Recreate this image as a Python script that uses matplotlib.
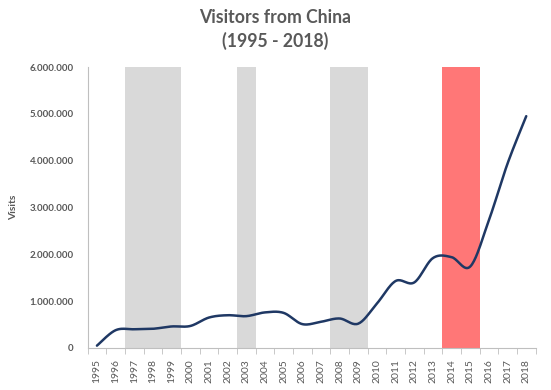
import matplotlib
matplotlib.use("Agg")
import matplotlib.pyplot as plt
import numpy as np
from matplotlib.ticker import FuncFormatter, FixedLocator

years = list(range(1995, 2019))
visitors = [50000, 380000, 400000, 410000, 460000, 470000, 650000, 700000, 680000,
            760000, 750000, 510000, 560000, 630000, 520000, 950000, 1430000, 1400000,
            1920000, 1940000, 1740000, 2730000, 3940000, 4950000]
grey_years = [1997, 1998, 1999, 2003, 2008, 2009]
red_years = [2014, 2015]
band_top = 6000000

TXT = "#595959"
plt.rcParams['font.family'] = ['Lato', 'DejaVu Sans']

fig = plt.figure(figsize=(5.51, 3.90), dpi=100)
ax = fig.add_axes([0.159, 0.1077, 0.813, 0.7205])

xs = np.arange(len(years))
gi = [years.index(y) for y in grey_years]
ri = [years.index(y) for y in red_years]
ax.bar(gi, [band_top] * len(gi), width=1.0, color="#D9D9D9", zorder=1)
ax.bar(ri, [band_top] * len(ri), width=1.0, color="#FF7777", zorder=1)

# Catmull-Rom smoothing (like Excel smoothed line)
def smooth(x, y, n=20):
    x = np.asarray(x, float); y = np.asarray(y, float)
    px = np.concatenate([[x[0]], x, [x[-1]]])
    py = np.concatenate([[y[0]], y, [y[-1]]])
    ox, oy = [], []
    t = np.linspace(0, 1, n, endpoint=False)
    for i in range(1, len(px) - 2):
        p0, p1, p2, p3 = [np.array([px[j], py[j]]) for j in (i - 1, i, i + 1, i + 2)]
        b0 = p1; b3 = p2
        b1 = p1 + (p2 - p0) / 6.0
        b2 = p2 - (p3 - p1) / 6.0
        for tt in t:
            pt = ((1 - tt) ** 3) * b0 + 3 * ((1 - tt) ** 2) * tt * b1 + 3 * (1 - tt) * tt ** 2 * b2 + tt ** 3 * b3
            ox.append(pt[0]); oy.append(pt[1])
    ox.append(x[-1]); oy.append(y[-1])
    return ox, oy

sx, sy = smooth(xs, visitors)
ax.plot(sx, sy, color="#1F3864", lw=1.8, zorder=3, solid_capstyle="round")

ax.set_xlim(-0.5, len(years) - 0.5)
ax.set_ylim(0, 6000000)
ax.set_yticks(np.arange(0, 6000001, 1000000))
ax.yaxis.set_major_formatter(FuncFormatter(lambda v, p: f"{int(v):,}".replace(",", ".")))
ax.set_xticks(xs)
ax.set_xticklabels([str(y) for y in years], rotation=90, fontsize=7.5, color=TXT)
ax.xaxis.set_minor_locator(FixedLocator(np.arange(-0.5, len(years), 1.0)))
ax.tick_params(axis="x", which="major", length=0, pad=8)
ax.tick_params(axis="x", which="minor", length=4, color="#BFBFBF", direction="out")
ax.tick_params(axis="y", length=0, pad=10, labelsize=7, labelcolor=TXT)
for lab in ax.get_yticklabels():
    lab.set_fontweight("bold")

for s in ["top", "right"]:
    ax.spines[s].set_visible(False)
for s in ["left", "bottom"]:
    ax.spines[s].set_color("#BFBFBF")
    ax.spines[s].set_linewidth(0.8)

ax.set_ylabel("Visits", fontsize=7.5, fontweight="bold", color=TXT, labelpad=8)
fig.text(0.5, 0.978, "Visitors from China\n(1995 - 2018)", ha="center", va="top",
         fontsize=12.7, fontweight="bold", color=TXT, linespacing=1.45)

fig.savefig("out.png", dpi=100)
